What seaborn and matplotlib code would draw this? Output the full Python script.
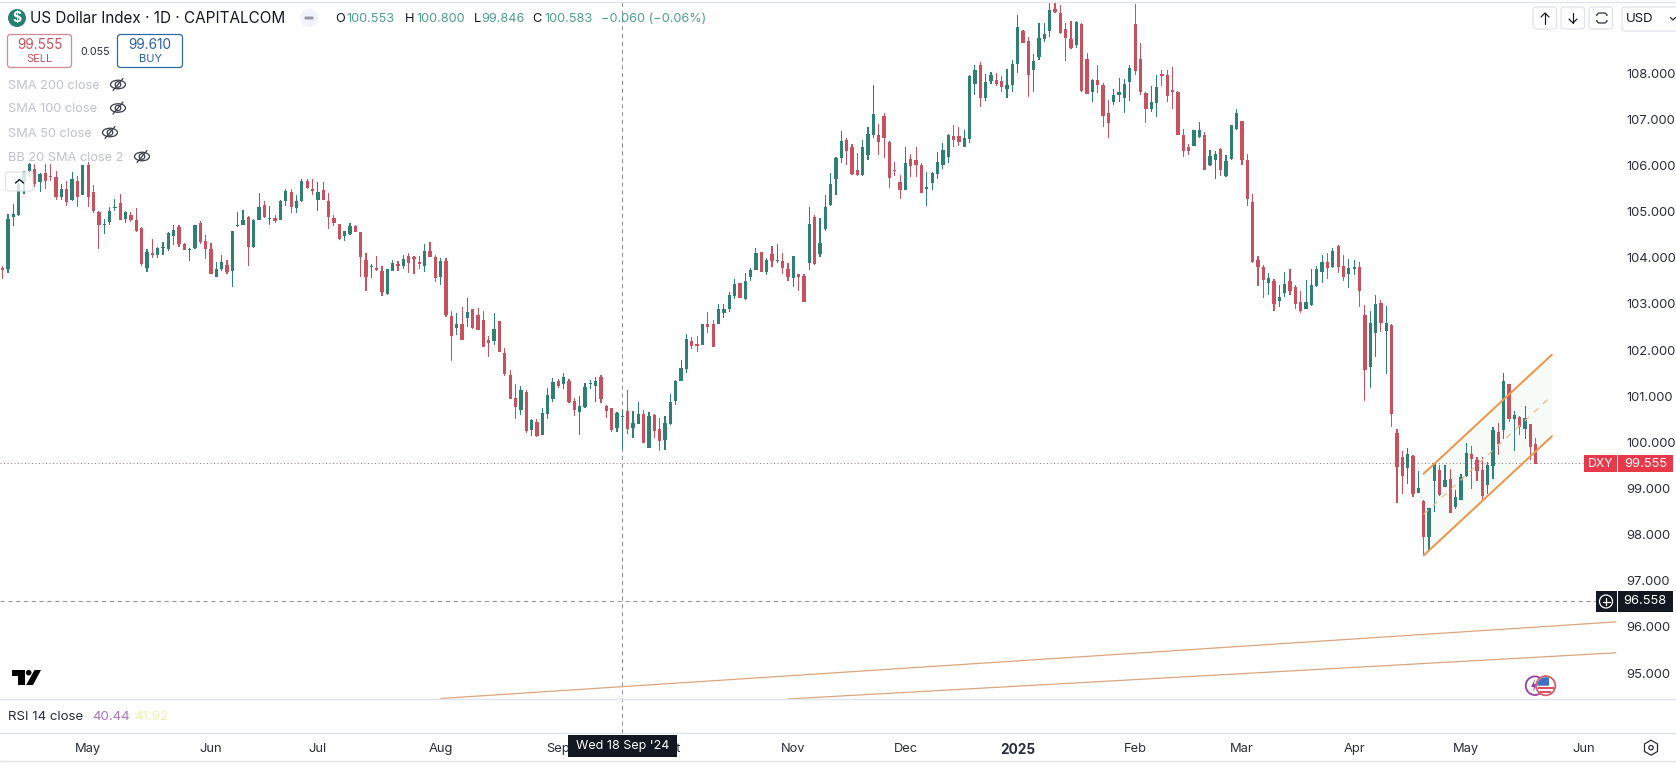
import matplotlib
matplotlib.use("Agg")
import matplotlib.pyplot as plt
from matplotlib.patches import FancyBboxPatch, Rectangle, Circle, Ellipse, Polygon
import numpy as np
import seaborn as sns

highs = [103.83,104.95,105.17,105.71,105.89,106.05,106.03,105.83,106.03,106.03,105.87,105.60,105.66,105.85,105.78,106.0,106.07,105.57,105.02,104.84,
105.10,105.28,105.39,105.02,104.99,105.08,104.66,104.19,104.40,104.23,104.34,104.55,104.72,104.72,104.32,104.21,104.72,104.79,104.50,104.32,
103.90,104.05,103.96,104.58,104.99,105.04,104.90,104.84,105.40,105.24,105.13,104.92,105.26,105.49,105.49,105.36,105.71,105.70,105.71,105.64,
105.64,105.40,104.92,104.73,104.59,104.75,104.72,104.55,104.10,103.87,104.03,103.82,103.76,103.96,103.93,104.07,104.11,104.03,104.03,104.30,
104.35,104.07,104.0,104.0,102.84,102.81,102.93,103.13,102.89,102.92,102.84,102.30,102.81,102.63,102.05,101.57,101.27,101.22,101.14,100.51,
100.50,100.75,101.18,101.40,101.38,101.51,101.38,100.97,101.0,101.29,101.36,101.41,101.47,100.82,100.75,100.65,100.70,101.14,100.69,100.88,
100.71,100.65,100.62,100.53,100.58,101.05,101.36,101.78,102.35,102.28,102.30,102.57,102.83,102.66,103.0,103.0,103.26,103.54,103.46,103.67,
103.78,104.22,104.12,104.0,104.25,104.30,104.11,103.88,104.03,103.64,103.65,105.11,104.92,104.87,105.36,105.84,106.19,106.74,106.59,106.47,
106.27,106.56,106.83,107.75,106.89,107.14,106.54,106.08,105.80,106.40,106.25,106.41,106.05,105.85,105.85,106.30,106.49,106.69,106.87,106.84,
106.76,107.95,108.17,108.25,107.99,108.02,108.01,107.93,108.09,108.29,109.27,108.94,108.78,108.42,109.09,109.09,109.54,109.54,109.47,109.09,
109.12,109.12,109.08,108.44,107.88,108.17,107.78,107.42,107.66,107.90,107.88,108.17,109.50,108.65,107.59,107.73,107.95,108.06,108.07,108.14,
107.61,106.79,106.47,106.77,106.94,106.72,106.34,106.31,106.38,106.23,106.88,107.23,106.97,106.25,105.39,104.03,103.85,103.68,103.54,103.40,
103.70,103.75,103.41,103.27,103.52,103.75,103.83,104.07,104.10,104.22,104.27,104.07,103.98,103.96,103.91,102.98,102.84,103.20,103.09,102.95,
102.57,100.29,99.81,99.88,99.72,99.39,98.76,98.58,99.56,99.50,99.50,99.43,98.97,99.32,99.99,99.93,99.68,99.68,99.57,100.33,
100.42,101.51,101.27,100.67,100.58,100.79,100.40,100.10]

lows = [103.54,103.67,104.68,104.90,105.39,105.75,105.54,105.42,105.49,105.66,105.26,105.26,105.13,105.24,105.11,105.35,105.10,104.97,104.19,104.52,
104.70,105.02,104.81,104.75,104.77,104.56,103.83,103.69,104.0,104.0,104.05,104.14,104.27,104.23,104.16,103.93,104.19,104.30,103.98,103.64,
103.59,103.72,103.65,103.36,104.66,104.70,103.83,104.21,104.81,104.87,104.70,104.75,104.81,105.13,104.97,104.97,105.21,105.49,105.35,105.01,
105.26,104.63,104.68,104.39,104.36,104.50,104.55,103.59,103.29,103.57,103.71,103.18,103.20,103.71,103.71,103.76,103.67,103.65,103.75,103.69,
104.01,103.47,103.42,102.71,101.77,102.32,102.21,102.51,102.46,102.43,102.06,101.85,102.12,101.96,101.43,100.93,100.50,100.60,100.21,100.13,
100.11,100.17,100.50,100.87,101.17,101.16,100.85,100.57,100.15,100.74,101.15,100.87,100.86,100.52,100.22,100.22,99.86,100.19,100.09,100.39,
99.98,99.88,100.10,99.81,99.84,100.37,100.81,101.32,101.50,102.03,101.96,102.10,102.37,102.06,102.56,102.69,102.82,103.10,103.12,103.09,
103.49,103.73,103.69,103.62,103.80,103.88,103.64,103.49,103.36,103.27,103.04,103.74,103.85,104.01,104.59,105.13,105.37,106.05,106.0,105.80,
105.78,105.78,106.11,106.59,106.22,106.16,105.51,105.77,105.28,105.46,105.76,105.76,105.40,105.12,105.46,105.70,105.93,106.05,106.40,106.42,
106.40,106.48,107.53,107.26,107.39,107.77,107.73,107.59,107.46,107.59,108.0,108.65,107.48,107.59,108.29,108.67,108.78,109.30,108.85,108.27,
108.53,108.54,107.59,107.54,107.37,107.57,106.84,106.59,107.30,107.37,107.13,107.39,107.97,107.53,106.92,107.16,107.05,107.72,107.37,107.23,
106.66,106.18,106.22,106.42,106.60,105.91,105.98,105.71,105.78,105.75,106.11,106.77,106.02,105.13,103.88,103.39,103.12,103.20,102.84,102.93,
103.15,103.20,102.90,102.81,102.88,102.95,103.36,103.45,103.53,103.77,103.67,103.49,103.34,103.62,102.93,100.89,101.18,101.85,102.39,101.49,
100.33,98.68,98.89,99.10,98.81,98.90,97.55,97.64,98.49,98.84,99.03,98.47,98.55,98.76,99.25,98.99,99.17,98.76,98.89,99.21,
99.72,100.08,100.44,99.81,100.15,100.08,99.61,99.54]

opens = [103.76,103.76,104.88,104.92,105.64,105.87,105.93,105.64,105.84,105.78,105.76,105.31,105.48,105.26,105.67,105.35,106.0,105.42,104.99,104.71,
104.77,105.08,105.18,104.83,104.92,104.81,104.65,103.78,104.10,104.05,104.21,104.19,104.48,104.66,104.30,104.16,104.21,104.75,104.37,104.19,
103.59,103.75,103.85,103.72,104.68,104.72,104.88,104.24,104.82,105.15,104.83,104.86,104.81,105.23,105.42,105.08,105.24,105.67,105.49,105.26,
105.46,105.24,104.87,104.73,104.48,104.52,104.68,104.55,103.96,103.80,103.78,103.72,103.22,103.71,103.85,103.83,104.03,104.0,103.90,103.83,
104.14,104.01,103.59,103.94,102.73,102.48,102.56,102.69,102.89,102.75,102.66,102.21,102.19,102.62,101.94,101.45,100.97,100.71,101.09,100.26,
100.45,100.17,100.62,100.95,101.34,101.26,101.32,100.89,100.65,100.76,101.26,101.23,101.41,100.79,100.75,100.32,100.54,100.69,100.32,100.39,
100.61,99.88,100.60,100.28,100.06,100.39,100.89,101.33,101.58,102.19,102.14,102.12,102.56,102.56,102.56,102.81,102.89,103.18,103.45,103.11,
103.59,103.73,104.12,103.70,104.09,103.92,103.92,103.76,103.56,103.64,103.60,103.88,104.89,104.09,104.63,105.14,105.70,106.16,106.56,106.41,
105.91,105.80,106.22,106.67,106.66,107.08,106.51,105.89,105.65,105.46,106.13,106.11,106.0,105.48,105.63,105.82,106.02,106.19,106.63,106.63,
106.40,106.57,107.77,108.17,107.46,107.84,107.86,107.84,107.65,107.75,108.19,108.91,108.69,108.06,108.35,108.75,108.91,109.39,109.31,108.95,
108.73,108.61,109.07,108.31,107.60,107.86,107.75,107.14,107.37,107.52,107.46,107.81,109.07,108.31,107.57,107.23,107.35,107.99,107.97,107.63,
107.60,106.67,106.41,106.42,106.61,106.67,106.02,106.11,106.35,105.78,106.14,106.79,106.97,106.11,105.21,103.96,103.79,103.45,103.49,103.06,
103.23,103.49,103.36,103.05,102.88,102.97,103.38,103.69,103.91,103.79,104.25,103.83,103.64,103.75,103.81,102.77,101.63,102.37,103.03,102.42,
102.55,100.21,99.68,99.44,99.70,98.91,98.74,97.96,99.16,99.41,99.03,99.20,98.61,98.76,99.27,99.75,99.61,99.41,99.08,99.48,
100.22,100.27,101.26,100.50,100.55,100.30,100.40,99.97]

closes = [103.74,104.84,104.94,105.60,105.85,106.03,105.59,105.82,105.67,105.75,105.31,105.48,105.21,105.71,105.31,106.0,105.31,105.01,104.70,104.73,
105.01,105.11,104.81,104.99,104.82,104.59,103.87,104.12,104.05,104.21,104.24,104.53,104.60,104.30,104.16,104.19,104.72,104.34,104.19,103.64,
103.76,103.90,103.69,104.57,104.70,104.82,104.24,104.81,105.11,104.88,104.85,104.79,105.24,105.44,105.10,105.24,105.66,105.51,105.44,105.42,
105.26,104.88,104.75,104.40,104.57,104.68,104.55,104.01,103.58,103.82,103.74,103.25,103.76,103.89,103.83,103.98,103.88,103.98,103.86,104.14,
104.01,103.57,103.94,102.77,102.30,102.57,102.21,102.82,102.48,102.43,102.06,102.15,102.46,101.96,101.49,100.94,100.76,101.14,100.24,100.49,
100.13,100.64,101.03,101.31,101.23,101.42,100.87,100.71,100.78,101.21,101.28,101.33,100.94,100.69,100.27,100.64,100.58,100.28,100.43,100.62,
99.98,100.58,100.24,100.04,100.41,100.87,101.33,101.62,102.23,102.09,102.08,102.56,102.50,102.06,102.88,102.88,103.2,103.44,103.13,103.49,
103.73,104.10,103.69,103.96,103.94,103.96,103.77,103.58,104.03,103.58,103.04,104.73,103.87,104.32,105.11,105.60,106.16,106.54,106.31,105.82,
105.80,106.41,106.69,107.12,106.51,106.59,105.73,105.88,105.46,106.06,105.99,106.02,105.40,105.54,105.83,106.08,106.33,106.66,106.56,106.50,
106.60,107.93,108.07,107.47,107.81,107.95,107.77,107.71,107.75,108.19,109.01,108.66,107.96,108.27,108.77,108.84,109.36,109.32,108.87,108.76,
108.54,109.10,107.62,107.54,107.86,107.75,107.07,106.93,107.53,107.60,107.77,108.12,108.04,107.59,107.23,107.38,107.71,107.93,107.50,107.60,
106.67,106.31,106.31,106.76,106.77,105.91,106.21,106.25,105.91,106.09,106.87,107.14,106.11,105.27,103.90,103.80,103.51,103.57,102.99,103.16,
103.43,103.29,102.99,102.84,103.05,103.40,103.75,103.91,103.77,104.14,103.80,103.58,103.78,103.81,103.29,101.56,102.59,103.0,102.59,102.59,
100.62,99.46,99.28,99.75,98.89,99.02,97.95,98.57,99.55,98.85,99.18,98.47,98.81,99.25,99.78,99.64,99.38,98.83,99.50,100.26,
99.97,101.34,100.51,100.60,100.34,100.53,99.90,99.54]

price_ticks = [95,96,97,98,99,100,101,102,103,104,105,106,107,108]
price_labels = [f"{p}.000" for p in price_ticks]
month_pos = [16,39,59,82,104,125,148,169,190,212,232,253,274,296]
month_labels = ["May","Jun","Jul","Aug","Sep","Oct","Nov","Dec","2025","Feb","Mar","Apr","May","Jun"]
channel_x = [266,290]
channel_top = [99.32,101.90]
channel_mid = [98.44,101.01]
channel_bot = [97.55,100.13]
trend_x1 = [82,302]
trend_y1 = [94.45,96.11]
trend_x2 = [147,302]
trend_y2 = [94.44,95.44]
last_price = 99.555
cross_price = 96.558
cross_bar = 116

GREEN = "#2e8172"
RED = "#c8505f"
ORANGE = "#e89a50"
INK = "#131722"
CROSS = "#8f929b"

sns.set_theme(style="white")
plt.rcParams["font.family"] = ["Inter", "DejaVu Sans"]

W, H = 1676, 765
fig = plt.figure(figsize=(W/100, H/100), dpi=100, facecolor="white")
ax = fig.add_axes([0, (H-699)/H, 1617/W, 697/H])

idx = np.arange(len(opens))
o, h, l, c = map(np.array, (opens, highs, lows, closes))
up = c >= o
for mask, col in ((up, GREEN), (~up, RED)):
    x = idx[mask]
    sns.barplot(x=x, y=(h-l)[mask], bottom=l[mask], native_scale=True, width=0.22,
                color=col, saturation=1, errorbar=None, linewidth=0, ax=ax, zorder=2)
    sns.barplot(x=x, y=np.maximum(np.abs(c-o), 0.03)[mask], bottom=np.minimum(o, c)[mask],
                native_scale=True, width=0.62, color=col, saturation=1, errorbar=None,
                linewidth=0, ax=ax, zorder=2)

ax.fill_between(channel_x, channel_bot, channel_top, color="#f6fbf8", zorder=0, linewidth=0)
sns.lineplot(x=channel_x, y=channel_top, color=ORANGE, linewidth=1.5, ax=ax, zorder=3)
sns.lineplot(x=channel_x, y=channel_bot, color=ORANGE, linewidth=1.5, ax=ax, zorder=3)
sns.lineplot(x=channel_x, y=channel_mid, color="#e9bd92", linewidth=0.9, ax=ax, zorder=3,
             linestyle=(0, (5, 5)))
sns.lineplot(x=trend_x1, y=trend_y1, color="#dba67c", linewidth=0.9, ax=ax, zorder=3)
sns.lineplot(x=trend_x2, y=trend_y2, color="#dba67c", linewidth=0.9, ax=ax, zorder=3)

ax.axhline(last_price, color="#8f7a80", linewidth=0.7, linestyle=(0, (1, 2.6)), zorder=1)
ax.axhline(cross_price, color=CROSS, linewidth=0.75, linestyle=(0, (4, 3.5)), zorder=1)
ax.axvline(cross_bar, ymin=-34/697, ymax=1, color=CROSS, linewidth=0.75,
           linestyle=(0, (4, 3.5)), zorder=1, clip_on=False)

ax.set_xlim(-0.505, 302.2)
ax.set_ylim(94.439, 109.542)
ax.yaxis.tick_right()
ax.set_yticks(price_ticks, price_labels)
ax.set_xticks(month_pos, month_labels)
ax.tick_params(axis="y", length=0, pad=7.0, labelsize=9.4, labelcolor="#2a2e39")
ax.tick_params(axis="x", length=0, pad=31.5, labelsize=9.3, labelcolor="#2a2e39")
ax.get_xticklabels()[8].set_fontweight("bold")
ax.get_xticklabels()[8].set_fontsize(9.8)
ax.set(xlabel=None, ylabel=None)
for s in ax.spines.values():
    s.set_visible(False)
ax.patch.set_alpha(0)
if ax.get_legend():
    ax.get_legend().remove()

ov = fig.add_axes([0, 0, 1, 1], zorder=5)
ov.set_xlim(0, W)
ov.set_ylim(H, 0)
ov.axis("off")
ov.patch.set_alpha(0)

SEP = "#e0e3eb"
for yy in (1.5, 699, 733, 761):
    ov.plot([0, W], [yy, yy], color=SEP, linewidth=1)

def rbox(x0, y0, x1, y1, ec, fc="white", r=3, lw=0.9, zo=3, alpha=None):
    ov.add_patch(FancyBboxPatch((x0, y0), x1-x0, y1-y0, boxstyle=f"round,pad=0,rounding_size={r}",
                                ec=ec, fc=fc, lw=lw, zorder=zo, alpha=alpha))

def label(x, y, s, **kw):
    kw.setdefault("va", "center")
    kw.setdefault("ha", "left")
    kw.setdefault("fontsize", 9.3)
    kw.setdefault("color", INK)
    return ov.text(x, y + 1, s, **kw)

# header
ov.add_patch(Circle((17, 18), 9, fc="#26806f", ec="none"))
label(17, 17, "$", ha="center", color="white", fontsize=10, fontweight="bold")
label(30, 17.5, "US Dollar Index · 1D · CAPITALCOM", fontsize=11)
ov.add_patch(Circle((309, 18), 9, fc="#f0f3fa", ec="none"))
rbox(304.5, 16.5, 313.5, 19.5, "none", fc="#9598a1", r=1.2, lw=0)
TEAL = "#4f9f90"
for xx, s, col in ((335, "O", INK), (346.7, "100.553", TEAL), (405, "H", INK), (416, "100.800", TEAL),
                   (474, "L", INK), (481, "99.846", TEAL), (532, "C", INK), (544, "100.583", TEAL),
                   (601, "−0.060 (−0.06%)", TEAL)):
    label(xx, 17.5, s, color=col, fontsize=9.2)

# sell / buy
rbox(7.5, 34.5, 71.5, 67.5, "#d58a94")
label(39.5, 43.5, "99.555", ha="center", color=RED, fontsize=9.8)
label(39.5, 58, "SELL", ha="center", color=RED, fontsize=8)
label(95, 50.5, "0.055", ha="center", color="#2a2e39", fontsize=7.8)
rbox(117.5, 34.5, 182.5, 67.5, "#2f6aa8")
label(150, 43.5, "99.610", ha="center", color="#2962a8", fontsize=9.8)
label(150, 58, "BUY", ha="center", color="#2962a8", fontsize=8)

# indicator legends
def eye(x, y):
    ov.add_patch(Ellipse((x, y), 15, 8.5, fc="none", ec="#3a3e48", lw=0.9, zorder=6))
    ov.add_patch(Circle((x, y), 2.8, fc="none", ec="#3a3e48", lw=0.9, zorder=6))
    ov.plot([x-5, x+5], [y+6, y-6], color="#3a3e48", lw=0.9, zorder=6)

for yy, s, ex in ((84.5, "SMA 200 close", 118), (108, "SMA 100 close", 118),
                  (132.5, "SMA 50 close", 110), (156.5, "BB 20 SMA close 2", 142)):
    label(8, yy, s, color="#c0c2ca", fontsize=9.2)
    eye(ex, yy)

rbox(5.5, 172, 33, 191, "#d8dbe2", fc="white", r=2.5, alpha=0.8)
ov.plot([15.5, 19.5, 23.5], [183, 179.5, 183], color="#131722", lw=1.0, zorder=6)

# right side buttons
for x0 in (1533, 1561, 1589):
    rbox(x0, 7, x0+23.5, 29, "#e0e3eb", r=3)
ov.plot([1545, 1545], [13, 23.5], color=INK, lw=0.85, zorder=6)
ov.plot([1541, 1545, 1549], [17, 13, 17], color=INK, lw=0.85, zorder=6)
ov.plot([1573, 1573], [12.5, 23], color=INK, lw=0.85, zorder=6)
ov.plot([1569, 1573, 1577], [19, 23, 19], color=INK, lw=0.85, zorder=6)
rbox(1596.7, 13, 1607, 23, "#2a2e39", r=3, lw=0.9, zo=4)
ov.add_patch(Rectangle((1595, 16.3), 14, 3.4, fc="white", ec="none", zorder=5))
rbox(1622, 7, 1690, 31, "#e0e3eb", r=3)
label(1625.5, 17.5, "USD", color="#131722", fontsize=9.5)
ov.plot([1670.5, 1673, 1675.5], [17.5, 20, 17.5], color="#2a2e39", lw=0.9, zorder=6)

# price tags
ov.add_patch(Rectangle((1584, 455), 32.7, 16.7, fc="#e8394b", ec="none"))
ov.add_patch(Rectangle((1617.6, 455), 55.5, 16.7, fc="#e8394b", ec="none"))
label(1600.3, 462.5, "DXY", ha="center", color="white", fontsize=8.8)
label(1645.3, 462.5, "99.555", ha="center", color="white", fontsize=9.3)
ov.add_patch(Rectangle((1596, 590.7), 20.6, 21.3, fc=INK, ec="none"))
ov.add_patch(Rectangle((1617.6, 590.7), 55.5, 21.3, fc=INK, ec="none"))
ov.add_patch(Circle((1606, 601.5), 6.5, fc="none", ec="white", lw=0.9))
ov.plot([1602.5, 1609.5], [601.5, 601.5], color="white", lw=0.9)
ov.plot([1606, 1606], [598, 605], color="white", lw=0.9)
label(1645.3, 600.5, "96.558", ha="center", color="white", fontsize=9.3)

# tooltip
ov.add_patch(Rectangle((568, 734.5), 109, 22.5, fc=INK, ec="none", zorder=6))
label(622.5, 745, "Wed 18 Sep '24", ha="center", color="white", fontsize=9.0, zorder=7)

# RSI legend
label(8, 715.7, "RSI 14 close", color="#2a2e39", fontsize=9.6)
label(92, 715.7, "40.44", color="#a675bd", fontsize=9.6)
label(134, 715.7, "41.92", color="#eef0a8", fontsize=9.6)

# logo
ov.add_patch(Polygon([(11.7, 670), (25, 670), (25, 685), (18, 685), (18, 676), (11.7, 676)], fc="black", ec="none"))
ov.add_patch(Circle((28.7, 672.7), 2.8, fc="black", ec="none"))
ov.add_patch(Polygon([(34.5, 670), (41, 670), (33, 685), (26.2, 685)], fc="black", ec="none"))

# event badges
ov.add_patch(Circle((1535, 685.7), 9.3, fc="white", ec="#9a3fa8", lw=1.3, zorder=4))
ov.add_patch(Polygon([(1535, 679), (1531, 687), (1534, 687), (1533, 692), (1537, 684), (1534, 684)],
                     fc="#9a3fa8", ec="none", zorder=4))
fx, fy, fr = 1545.7, 685.7, 8.5
ov.add_patch(Circle((fx, fy), 9.6, fc="white", ec="#d0606c", lw=1.3, zorder=5))
ov.add_patch(Rectangle((fx-8.2, fy+0.8), 16.4, 2.4, fc="#e0505f", ec="none", zorder=6))
ov.add_patch(Rectangle((fx-5.6, fy+5), 11.2, 2.3, fc="#e0505f", ec="none", zorder=6))
th = np.deg2rad(np.linspace(180, 293, 24))
ov.add_patch(Polygon(np.r_[[[fx+3.3, fy]], np.c_[fx+fr*np.cos(th), fy+fr*np.sin(th)]],
                     fc="#3f6fc4", ec="none", zorder=6))

# settings hexagon
ang = np.deg2rad(np.arange(0, 360, 60))
ov.add_patch(Polygon(np.c_[1651 + 7.5*np.sin(ang), 747.7 + 7.5*np.cos(ang)], fc="none", ec="#2a2e39", lw=0.9))
ov.add_patch(Circle((1651, 747.7), 2.2, fc="none", ec="#2a2e39", lw=0.9))

fig.savefig("out.png", dpi=100, facecolor="white")
